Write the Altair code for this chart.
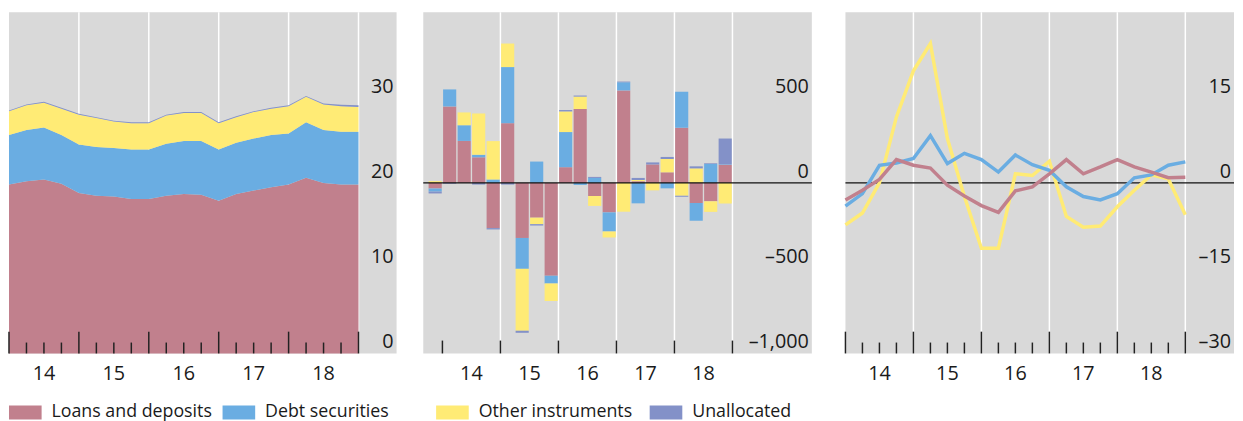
import altair as alt
import pandas as pd

# ---------------- data ----------------
quarters = ["2013Q4", "2014Q1", "2014Q2", "2014Q3", "2014Q4",
            "2015Q1", "2015Q2", "2015Q3", "2015Q4",
            "2016Q1", "2016Q2", "2016Q3", "2016Q4",
            "2017Q1", "2017Q2", "2017Q3", "2017Q4",
            "2018Q1", "2018Q2", "2018Q3", "2018Q4"]

series = ["Loans and deposits", "Debt securities", "Other instruments", "Unallocated"]
colors = ["#C1808D", "#6AADE2", "#FFEB75", "#8391C8"]

# Panel 1: stocks (stacked area)
loans1 = [19.8, 20.2, 20.4, 19.9, 18.8, 18.5, 18.4, 18.1, 18.1, 18.5, 18.7,
          18.6, 17.9, 18.7, 19.1, 19.5, 19.8, 20.6, 20.0, 19.8, 19.8]
debt1 = [5.8, 6.0, 6.1, 5.7, 5.7, 5.7, 5.7, 5.8, 5.8, 6.1, 6.2,
         6.3, 6.0, 6.0, 6.1, 6.1, 6.0, 6.5, 6.2, 6.2, 6.2]
other1 = [2.8, 2.9, 2.9, 3.1, 3.5, 3.4, 3.1, 3.1, 3.1, 3.3, 3.3,
          3.3, 3.1, 3.0, 3.1, 3.1, 3.2, 3.0, 3.0, 3.0, 2.9]
unalloc1 = [0.1, 0.1, 0.1, 0.1, 0.1, 0.1, 0.1, 0.1, 0.1, 0.1, 0.1,
            0.1, 0.1, 0.1, 0.1, 0.1, 0.1, 0.1, 0.1, 0.15, 0.2]

# Panel 2: flows (stacked bars)
loans2 = [-33, 448, 246, 150, -265, 350, -323, -204, -544, 92, 433,
          -77, -173, 542, 10, 108, 62, 323, -118, -108, 105]
debt2 = [-18, 100, 92, 15, 20, 329, -181, 125, -46, 206, -12,
         29, -112, 48, -120, 0, -32, 212, -104, 111, 3]
other2 = [10, 0, 75, 242, 225, 138, -363, -38, -102, 121, 73,
          -58, -35, -169, 7, -44, 78, -75, 85, -62, -121]
unalloc2 = [-11, -5, 0, -10, -8, -10, -12, -8, 0, 8, 6,
            6, 0, 4, 12, 12, 12, -7, 12, 4, 152]

# Panel 3: growth rates (lines)
loans3 = [-3.0, -1.3, 0.6, 4.1, 3.1, 2.6, -0.4, -2.3, -4.0, -5.2, -1.4,
          -0.7, 1.6, 4.1, 1.6, 2.8, 4.1, 2.8, 1.9, 0.9, 1.0]
debt3 = [-4.1, -1.9, 3.1, 3.5, 4.3, 8.3, 3.4, 5.2, 4.1, 1.9, 4.9,
         3.2, 2.2, -0.7, -2.4, -3.0, -1.9, 0.9, 1.4, 3.1, 3.7]
other3 = [-7.4, -5.3, 0.0, 11.6, 19.7, 24.5, 7.8, -2.4, -11.5, -11.5, 1.6,
          1.3, 3.8, -5.9, -7.8, -7.6, -4.2, -1.3, 1.4, 0.7, -5.6]

# axis texts
year_text = ["14", "15", "16", "17", "18"]
year_mid = [2014.5, 2015.5, 2016.5, 2017.5, 2018.5]
year_bounds = [2014, 2015, 2016, 2017, 2018, 2019]

y1_vals = [0, 10, 20, 30]
y1_text = ["0", "10", "20", "30"]
y2_vals = [-1000, -500, 0, 500]
y2_text = ["\u20131,000", "\u2013500", "0", "500"]
y3_vals = [-30, -15, 0, 15]
y3_text = ["\u201330", "\u201315", "0", "15"]

# ---------------- helpers ----------------
def qpos(q):
    # position of the end of the quarter on a year axis
    return int(q[:4]) + int(q[-1]) * 0.25

tpos = [qpos(q) for q in quarters]

def long_df(values_by_series, shift=0.0):
    rows = []
    for k, (name, vals) in enumerate(values_by_series):
        for t, v in zip(tpos, vals):
            rows.append({"t": t + shift, "v": v, "s": name, "k": k})
    return pd.DataFrame(rows)

df1 = long_df(list(zip(series, [loans1, debt1, other1, unalloc1])))
df2 = long_df(list(zip(series, [loans2, debt2, other2, unalloc2])), shift=-0.125)
df3 = long_df(list(zip(series[:3], [loans3, debt3, other3])))

H = 345
W1, W2, W3 = 392, 393, 393
FONT = "Open Sans"
TEXT_COLOR = "#1a1a1a"
TICK_COLOR = "#222222"

color_scale = alt.Scale(domain=series, range=colors)


def ygrid_axis(values):
    return alt.Axis(orient="right", values=values, grid=True, gridColor="white",
                    gridWidth=1.5, ticks=False, labels=False, domain=False,
                    title=None)


def vgrid(xs):
    d = pd.DataFrame({"t": year_bounds[1:]})
    return alt.Chart(d).mark_rule(color="white", strokeWidth=1.5).encode(
        x=alt.X("t:Q", scale=xs, axis=None))


def ticks(xs, positions, length):
    d = pd.DataFrame({"t": positions})
    return alt.Chart(d).mark_rule(color=TICK_COLOR, strokeWidth=1.5).encode(
        x=alt.X("t:Q", scale=xs, axis=None),
        y=alt.value(H), y2=alt.value(H - length))


def zero_rule(ys):
    d = pd.DataFrame({"v": [0]})
    return alt.Chart(d).mark_rule(color="#111111", strokeWidth=1.5).encode(
        y=alt.Y("v:Q", scale=ys, axis=None))


def xlabels(xs):
    d = pd.DataFrame({"t": year_mid, "lab": year_text})
    return alt.Chart(d).mark_text(font=FONT, fontSize=20, color=TEXT_COLOR,
                                  align="center", baseline="middle").encode(
        x=alt.X("t:Q", scale=xs, axis=None),
        y=alt.value(H + 21),
        text="lab:N")


def ylabels(ys, vals, texts, width):
    d = pd.DataFrame({"v": vals, "lab": texts})
    return alt.Chart(d).mark_text(font=FONT, fontSize=20, color=TEXT_COLOR,
                                  align="right", baseline="alphabetic",
                                  dy=-5).encode(
        x=alt.value(width - 3),
        y=alt.Y("v:Q", scale=ys, axis=None),
        text="lab:N")


major_ticks = year_bounds
minor_ticks = [y + f for y in year_bounds[:-1] for f in (0.25, 0.5, 0.75)]

# ---------------- panel 1 ----------------
xs1 = alt.Scale(domain=[2014, 2014 + W1 / 70.7], nice=False, zero=False)
ys1 = alt.Scale(domain=[0, 40], nice=False)
area = alt.Chart(df1).mark_area(opacity=1).encode(
    x=alt.X("t:Q", scale=xs1, axis=None),
    y=alt.Y("v:Q", stack="zero", scale=ys1, axis=ygrid_axis(y1_vals)),
    color=alt.Color("s:N", scale=color_scale,
                    legend=alt.Legend(orient="none", legendX=0, legendY=388,
                                      direction="horizontal", title=None,
                                      columns=4, gridAlign="all",
                                      symbolType="M-1,-0.424L1,-0.424L1,0.424L-1,0.424Z",
                                      symbolSize=1089, symbolStrokeWidth=0,
                                      labelFontSize=18, labelFont=FONT,
                                      labelColor=TEXT_COLOR, labelOffset=10,
                                      columnPadding=10, padding=0, labelLimit=400)),
    order=alt.Order("k:Q", sort="ascending"),
)
panel1 = alt.layer(vgrid(xs1), area, ticks(xs1, major_ticks, 22),
                   ticks(xs1, minor_ticks, 11), xlabels(xs1),
                   ylabels(ys1, y1_vals, y1_text, W1)).properties(width=W1, height=H)

# ---------------- panel 2 ----------------
xs2 = alt.Scale(domain=[2013.755, 2013.755 + W2 / 60.2], nice=False, zero=False)
ys2 = alt.Scale(domain=[-1000, 1000], nice=False)
bars = alt.Chart(df2).mark_bar(size=13.3).encode(
    x=alt.X("t:Q", scale=xs2, axis=None),
    y=alt.Y("v:Q", stack="zero", scale=ys2, axis=ygrid_axis(y2_vals)),
    color=alt.Color("s:N", scale=color_scale, legend=None),
    order=alt.Order("k:Q", sort="ascending"),
)
panel2 = alt.layer(vgrid(xs2), bars, zero_rule(ys2),
                   ticks(xs2, major_ticks, 13), xlabels(xs2),
                   ylabels(ys2, y2_vals, y2_text, W2)).properties(width=W2, height=H)

# ---------------- panel 3 ----------------
xs3 = alt.Scale(domain=[2014, 2014 + W3 / 68.75], nice=False, zero=False)
ys3 = alt.Scale(domain=[-30, 30], nice=False)


def line_layer(name, with_axes=False):
    d = df3[df3["s"] == name]
    return alt.Chart(d).mark_line(strokeWidth=3.5).encode(
        x=alt.X("t:Q", scale=xs3, axis=None),
        y=alt.Y("v:Q", scale=ys3,
                axis=ygrid_axis(y3_vals) if with_axes else None),
        color=alt.Color("s:N", scale=color_scale, legend=None),
    )


panel3 = alt.layer(vgrid(xs3), zero_rule(ys3),
                   line_layer("Other instruments", True),
                   line_layer("Debt securities"),
                   line_layer("Loans and deposits"),
                   ticks(xs3, major_ticks, 22),
                   ticks(xs3, minor_ticks, 11), xlabels(xs3),
                   ylabels(ys3, y3_vals, y3_text, W3)).properties(width=W3, height=H)

chart = alt.hconcat(panel1, panel2, panel3, spacing=26).properties(
    padding={"left": 0, "top": 1, "right": 0, "bottom": 0}
).configure_view(fill="#D9D9D9", stroke=None)

chart.save("out.html", embed_options={"renderer": "svg", "actions": False})
